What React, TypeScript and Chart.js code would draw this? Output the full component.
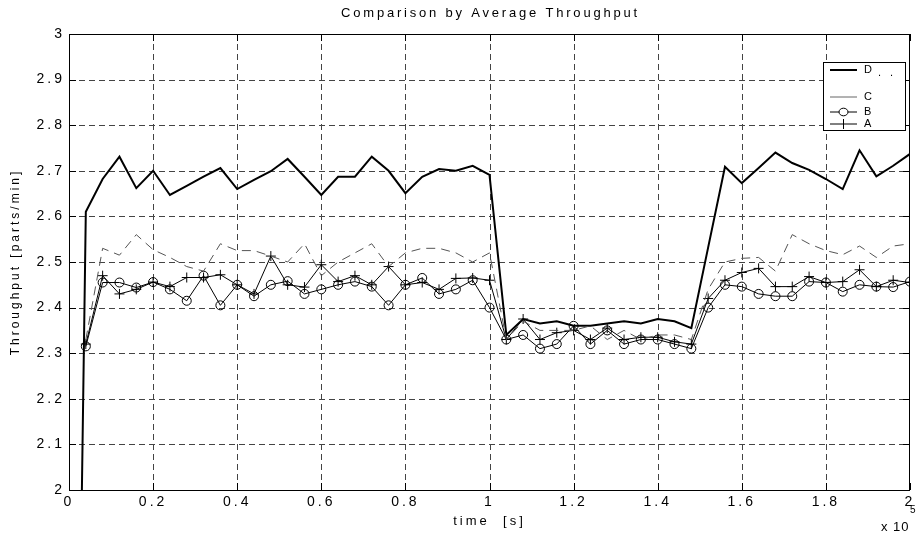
import React, { useEffect, useRef } from "react";
import { Chart, registerables } from "chart.js";

Chart.register(...registerables);

// time axis, in units of 1e5 s
const times = [
  0, 0.04, 0.08, 0.12, 0.16, 0.2, 0.24, 0.28, 0.32, 0.36, 0.4,
  0.44, 0.48, 0.52, 0.56, 0.6, 0.64, 0.68, 0.72, 0.76, 0.8,
  0.84, 0.88, 0.92, 0.96, 1.0, 1.04, 1.08, 1.12, 1.16, 1.2,
  1.24, 1.28, 1.32, 1.36, 1.4, 1.44, 1.48, 1.52, 1.56, 1.6,
  1.64, 1.68, 1.72, 1.76, 1.8, 1.84, 1.88, 1.92, 1.96, 2.0,
];

const seriesD = [
  0, 2.61, 2.682, 2.731, 2.662, 2.7, 2.647, 2.667, 2.687, 2.706, 2.66,
  2.68, 2.699, 2.726, 2.687, 2.647, 2.687, 2.687, 2.731, 2.7, 2.651,
  2.687, 2.704, 2.7, 2.711, 2.691, 2.34, 2.375, 2.365, 2.37, 2.36,
  2.36, 2.365, 2.37, 2.365, 2.375, 2.37, 2.355, 2.532, 2.709, 2.673,
  2.706, 2.74, 2.717, 2.702, 2.682, 2.66, 2.745, 2.688, 2.711, 2.737,
];

const seriesC = [
  null, 2.33, 2.53, 2.515, 2.56, 2.527, 2.51, 2.49, 2.48, 2.54, 2.525,
  2.525, 2.513, 2.5, 2.54, 2.47, 2.5, 2.52, 2.54, 2.49, 2.52,
  2.53, 2.53, 2.52, 2.5, 2.52, 2.33, 2.37, 2.35, 2.35, 2.35,
  2.36, 2.33, 2.35, 2.33, 2.34, 2.34, 2.33, 2.44, 2.5, 2.508,
  2.51, 2.48, 2.56, 2.54, 2.525, 2.516, 2.535, 2.51, 2.535, 2.54,
];

const seriesB = [
  null, 2.315, 2.455, 2.455, 2.444, 2.456, 2.44, 2.415, 2.47, 2.405, 2.45,
  2.425, 2.45, 2.458, 2.43, 2.44, 2.45, 2.457, 2.446, 2.405, 2.45,
  2.465, 2.43, 2.44, 2.46, 2.4, 2.33, 2.34, 2.31, 2.32, 2.36,
  2.32, 2.35, 2.32, 2.33, 2.33, 2.32, 2.31, 2.4, 2.45, 2.446,
  2.43, 2.425, 2.425, 2.457, 2.455, 2.435, 2.45, 2.446, 2.445, 2.457,
];

const seriesA = [
  null, 2.32, 2.47, 2.43, 2.44, 2.456, 2.446, 2.466, 2.466, 2.472, 2.45,
  2.43, 2.513, 2.45, 2.445, 2.494, 2.457, 2.47, 2.45, 2.49, 2.45,
  2.455, 2.44, 2.464, 2.465, 2.46, 2.33, 2.375, 2.33, 2.345, 2.35,
  2.33, 2.355, 2.33, 2.335, 2.335, 2.325, 2.32, 2.42, 2.46, 2.477,
  2.486, 2.446, 2.446, 2.468, 2.455, 2.457, 2.483, 2.446, 2.46, 2.455,
];

const xTickValues = [0, 0.2, 0.4, 0.6, 0.8, 1, 1.2, 1.4, 1.6, 1.8, 2];
const xTickLabels = ["0", "0.2", "0.4", "0.6", "0.8", "1", "1.2", "1.4", "1.6", "1.8", "2"];
const yTickValues = [2, 2.1, 2.2, 2.3, 2.4, 2.5, 2.6, 2.7, 2.8, 2.9, 3];
const yTickLabels = ["2", "2.1", "2.2", "2.3", "2.4", "2.5", "2.6", "2.7", "2.8", "2.9", "3"];

const legendNames = ["D", "C", "B", "A"];
const titleText = "Comparison by Average Throughput";
const xTitle = "time  [s]";
const yTitle = "Throughput [parts/min]";

const FONT = "'Liberation Sans', Arial, Helvetica, sans-serif";

export default function App() {
  const ref = useRef<HTMLCanvasElement>(null);

  useEffect(() => {
    document.body.style.margin = "0";
    const canvas = ref.current;
    if (!canvas) return;

    const pts = (vals: (number | null)[]) =>
      times.map((t, i) => ({ x: t, y: vals[i] as number }));

    const framePlugin = {
      id: "framePlugin",
      beforeDraw(chart: any) {
        const ctx = chart.ctx;
        ctx.save();
        ctx.fillStyle = "#fff";
        ctx.fillRect(0, 0, chart.width, chart.height);
        ctx.restore();
        (ctx as any).letterSpacing = "3px";
      },
      beforeDatasetsDraw(chart: any) {
        const ctx = chart.ctx;
        const { left, right, top, bottom } = chart.chartArea;
        const xs = chart.scales.x;
        const ys = chart.scales.y;
        ctx.save();
        ctx.strokeStyle = "#444";
        ctx.lineWidth = 1;
        ctx.setLineDash([6, 4]);
        xTickValues.forEach((v) => {
          if (v <= 0 || v >= 2) return;
          const px = Math.round(xs.getPixelForValue(v)) + 0.5;
          ctx.beginPath();
          ctx.moveTo(px, bottom);
          ctx.lineTo(px, top);
          ctx.stroke();
        });
        yTickValues.forEach((v) => {
          if (v <= 2 || v >= 3) return;
          const py = Math.round(ys.getPixelForValue(v)) + 0.5;
          ctx.beginPath();
          ctx.moveTo(left, py);
          ctx.lineTo(right, py);
          ctx.stroke();
        });
        ctx.restore();
      },
      afterDatasetsDraw(chart: any) {
        const ctx = chart.ctx;
        const { left, right, top, bottom } = chart.chartArea;
        const xs = chart.scales.x;
        const ys = chart.scales.y;
        const tl = 7;
        ctx.save();
        ctx.strokeStyle = "#000";
        ctx.lineWidth = 1;
        ctx.setLineDash([]);
        ctx.strokeRect(Math.round(left) + 0.5, Math.round(top) + 0.5, Math.round(right - left) - 1, Math.round(bottom - top));
        ctx.beginPath();
        xTickValues.forEach((v) => {
          const px = Math.round(xs.getPixelForValue(v)) + 0.5;
          ctx.moveTo(px, bottom);
          ctx.lineTo(px, bottom - tl);
          ctx.moveTo(px, top);
          ctx.lineTo(px, top + tl);
        });
        yTickValues.forEach((v) => {
          const py = Math.round(ys.getPixelForValue(v)) + 0.5;
          ctx.moveTo(left, py);
          ctx.lineTo(left + tl, py);
          ctx.moveTo(right, py);
          ctx.lineTo(right - tl, py);
        });
        ctx.stroke();
        ctx.restore();
      },
      afterDraw(chart: any) {
        const ctx = chart.ctx;
        const { left, right } = chart.chartArea;
        ctx.save();
        (ctx as any).letterSpacing = "2.8px";
        ctx.fillStyle = "#000";
        ctx.font = `13px ${FONT}`;
        ctx.textAlign = "center";
        ctx.textBaseline = "middle";
        ctx.fillText(titleText, (left + right) / 2 + 1, 13);

        // x 10^5 multiplier
        (ctx as any).letterSpacing = "1px";
        ctx.textAlign = "left";
        ctx.font = `13px ${FONT}`;
        ctx.fillText("x 10", 881, 527);
        (ctx as any).letterSpacing = "0px";
        ctx.font = `10px ${FONT}`;
        ctx.fillText("5", 910, 510);

        // legend
        const bx = 823, by = 62, bw = 82, bh = 68;
        ctx.fillStyle = "#fff";
        ctx.fillRect(bx, by, bw, bh);
        ctx.strokeStyle = "#000";
        ctx.lineWidth = 1;
        ctx.strokeRect(bx + 0.5, by + 0.5, bw, bh);
        const rows = [70, 97, 112, 124];
        const lx0 = 830, lx1 = 857, tx = 864;
        ctx.font = `11px ${FONT}`;
        ctx.textBaseline = "middle";
        ctx.fillStyle = "#000";
        // D
        ctx.strokeStyle = "#000";
        ctx.lineWidth = 2;
        ctx.beginPath(); ctx.moveTo(lx0, rows[0]); ctx.lineTo(lx1, rows[0]); ctx.stroke();
        ctx.fillText(legendNames[0], tx, rows[0]);
        ctx.fillText(".", 878, rows[0] + 3);
        ctx.fillText(".", 890, rows[0] + 3);
        // C
        ctx.strokeStyle = "#666";
        ctx.lineWidth = 1;
        ctx.beginPath(); ctx.moveTo(lx0, rows[1]); ctx.lineTo(lx1, rows[1]); ctx.stroke();
        ctx.fillText(legendNames[1], tx, rows[1]);
        // B
        ctx.strokeStyle = "#000";
        ctx.beginPath(); ctx.moveTo(lx0, rows[2]); ctx.lineTo(lx1, rows[2]); ctx.stroke();
        ctx.beginPath(); ctx.ellipse((lx0 + lx1) / 2, rows[2], 4.5, 3.8, 0, 0, Math.PI * 2);
        ctx.fillStyle = "#fff"; ctx.fill(); ctx.stroke();
        ctx.fillStyle = "#000";
        ctx.fillText(legendNames[2], tx, rows[2]);
        // A
        ctx.beginPath(); ctx.moveTo(lx0, rows[3]); ctx.lineTo(lx1, rows[3]); ctx.stroke();
        const cx = (lx0 + lx1) / 2;
        ctx.beginPath(); ctx.moveTo(cx, rows[3] - 5); ctx.lineTo(cx, rows[3] + 5); ctx.stroke();
        ctx.fillText(legendNames[3], tx, rows[3]);
        ctx.restore();
      },
    };

    const chart = new Chart(canvas, {
      type: "line",
      data: {
        datasets: [
          {
            label: "C",
            data: pts(seriesC),
            borderColor: "#555",
            borderWidth: 1,
            borderDash: [9, 6],
            pointRadius: 0,
            tension: 0,
            spanGaps: false,
          },
          {
            label: "A",
            data: pts(seriesA),
            borderColor: "#000",
            borderWidth: 1,
            pointStyle: "cross",
            pointRadius: 5,
            pointBorderColor: "#000",
            pointBorderWidth: 1,
            tension: 0,
          },
          {
            label: "B",
            data: pts(seriesB),
            borderColor: "#000",
            borderWidth: 1,
            pointStyle: "circle",
            pointRadius: 4.5,
            pointBackgroundColor: "rgba(255,255,255,0)",
            pointBorderColor: "#000",
            pointBorderWidth: 1,
            tension: 0,
          },
          {
            label: "D",
            data: pts(seriesD),
            borderColor: "#000",
            borderWidth: 2,
            pointRadius: 0,
            tension: 0,
          },
        ],
      },
      options: {
        animation: false,
        responsive: false,
        devicePixelRatio: 1,
        layout: { padding: { top: 34, right: 1, left: 0, bottom: 0 } },
        plugins: {
          legend: { display: false },
          tooltip: { enabled: false },
          title: { display: false },
        },
        scales: {
          x: {
            type: "linear",
            min: 0,
            max: 2,
            afterBuildTicks(scale: any) {
              scale.ticks = xTickValues.map((v) => ({ value: v }));
            },
            afterFit(scale: any) {
              scale.height = 45;
              scale.paddingLeft = 0;
              scale.paddingRight = 0;
            },
            grid: { display: false, drawTicks: false },
            border: { display: false },
            ticks: {
              autoSkip: false,
              maxRotation: 0,
              padding: 4,
              color: "#000",
              font: { family: FONT, size: 14 },
              callback: (_v: any, i: number) => xTickLabels[i],
            },
            title: {
              display: true,
              text: xTitle,
              color: "#000",
              font: { family: FONT, size: 13 },
              padding: { top: 0, bottom: 6 },
            },
          },
          y: {
            type: "linear",
            min: 2,
            max: 3,
            afterBuildTicks(scale: any) {
              scale.ticks = yTickValues.map((v) => ({ value: v }));
            },
            afterFit(scale: any) {
              scale.width = 69;
              scale.paddingTop = 0;
              scale.paddingBottom = 0;
            },
            grid: { display: false, drawTicks: false },
            border: { display: false },
            ticks: {
              autoSkip: false,
              padding: 4,
              color: "#000",
              font: { family: FONT, size: 14 },
              callback: (_v: any, i: number) => yTickLabels[i],
            },
            title: {
              display: true,
              text: yTitle,
              color: "#000",
              font: { family: FONT, size: 12 },
              padding: { top: 8, bottom: 0 },
            },
          },
        },
      },
      plugins: [framePlugin],
    });

    return () => chart.destroy();
  }, []);

  return <canvas ref={ref} width={916} height={535} style={{ display: "block" }} />;
}
